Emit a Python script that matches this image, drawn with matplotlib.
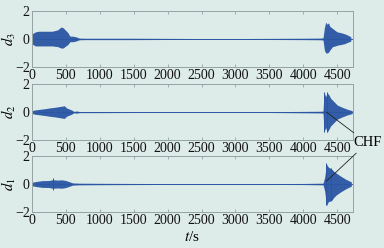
import matplotlib
matplotlib.use("Agg")
import matplotlib.pyplot as plt

plt.rcParams['font.family'] = ['Liberation Serif', 'DejaVu Serif']
plt.rcParams['mathtext.fontset'] = 'stix'
plt.rcParams['axes.unicode_minus'] = True

# ---- data (signal envelopes) ----
labels = ['$d_3$', '$d_2$', '$d_1$']
xticks = [0, 500, 1000, 1500, 2000, 2500, 3000, 3500, 4000, 4500]
yticks = [-2, 0, 2]

t3 = [0, 50, 100, 200, 300, 380, 430, 460, 500, 530, 560, 600, 650, 700, 800, 1000,
      1500, 2000, 2500, 3000, 3500, 4000, 4250, 4290, 4310, 4330, 4350, 4370, 4390,
      4430, 4470, 4500, 4550, 4600, 4650, 4700]
up3 = [0.35, 0.5, 0.55, 0.55, 0.55, 0.65, 0.85, 0.8, 0.6, 0.45, 0.2, 0.2, 0.15, 0.06, 0.05, 0.05,
       0.05, 0.04, 0.03, 0.03, 0.04, 0.05, 0.06, 0.08, 0.8, 1.2, 1.05, 1.15, 0.9,
       0.75, 0.6, 0.5, 0.45, 0.38, 0.28, 0.15]
lo3 = [-0.35, -0.5, -0.5, -0.5, -0.5, -0.55, -0.65, -0.65, -0.5, -0.4, -0.2, -0.2, -0.15, -0.06, -0.05, -0.05,
       -0.05, -0.04, -0.03, -0.03, -0.04, -0.05, -0.06, -0.08, -0.8, -1.0, -1.0, -0.95, -0.8,
       -0.55, -0.5, -0.45, -0.4, -0.35, -0.25, -0.15]

t2 = [0, 40, 120, 200, 265, 350, 437, 480, 510, 560, 585, 620, 660, 700, 1000, 1500, 2000,
      2500, 3000, 3500, 4000, 4250, 4290, 4305, 4330, 4350, 4380, 4400, 4430, 4500, 4580,
      4650, 4720]
up2 = [0.1, 0.15, 0.2, 0.25, 0.3, 0.35, 0.42, 0.45, 0.3, 0.2, 0.15, 0.05, 0.08, 0.04, 0.04, 0.03, 0.03,
       0.03, 0.03, 0.03, 0.05, 0.06, 0.08, 1.4, 1.1, 1.4, 1.2, 1.0, 0.85, 0.5, 0.33,
       0.2, 0.1]
lo2 = [-0.1, -0.15, -0.2, -0.25, -0.3, -0.35, -0.42, -0.45, -0.3, -0.2, -0.15, -0.05, -0.08, -0.04, -0.04, -0.03, -0.03,
       -0.03, -0.03, -0.03, -0.05, -0.06, -0.08, -1.4, -1.1, -1.45, -1.2, -1.0, -0.85, -0.5, -0.33,
       -0.2, -0.1]

t1 = [0, 60, 150, 250, 300, 320, 380, 437, 500, 560, 600, 700, 1000, 1500, 2000, 2500,
      3000, 3500, 4000, 4290, 4315, 4340, 4370, 4413, 4450, 4487, 4560, 4634, 4707]
up1 = [0.12, 0.18, 0.24, 0.25, 0.3, 0.3, 0.28, 0.3, 0.25, 0.15, 0.08, 0.06, 0.05, 0.04, 0.03, 0.03,
       0.03, 0.03, 0.04, 0.06, 0.5, 1.43, 1.2, 1.09, 0.9, 0.77, 0.53, 0.32, 0.15]
lo1 = [-0.12, -0.18, -0.24, -0.25, -0.3, -0.3, -0.28, -0.3, -0.25, -0.15, -0.08, -0.06, -0.05, -0.04, -0.03, -0.03,
       -0.03, -0.03, -0.04, -0.06, -0.5, -1.55, -1.25, -1.2, -0.95, -0.77, -0.53, -0.32, -0.15]

# spike lines seen inside the bursts
spk_t = [[], [4305, 4350], [310, 4340, 4413]]
spk_a = [[], [1.43, 1.43], [0.42, 1.5, 1.15]]

envs = [(t3, up3, lo3), (t2, up2, lo2), (t1, up1, lo1)]

bg = '#deece9'
sig = '#2a55a3'
spine_c = '#93a3a3'

fig = plt.figure(figsize=(3.84, 2.48), dpi=100, facecolor=bg)
bottoms = [0.730, 0.435, 0.145]
axes = []
for i, (b, lab, env) in enumerate(zip(bottoms, labels, envs)):
    ax = fig.add_axes([0.083, b, 0.836, 0.226], facecolor=bg)
    t, up, lo = env
    ax.fill_between(t, lo, up, color=sig, lw=0, alpha=0.95)
    ax.axhline(0, color=sig, lw=0.6)
    for st, sa in zip(spk_t[i], spk_a[i]):
        ax.vlines(st, -sa, sa, color=sig, lw=0.7)
    ax.set_xlim(0, 4730)
    ax.set_ylim(-2, 2)
    ax.set_xticks(xticks)
    ax.set_yticks(yticks)
    ax.tick_params(direction='in', top=True, right=True, length=2.5, width=0.6,
                   color=spine_c, labelsize=10, pad=1.5, labelcolor='#111111')
    for s in ax.spines.values():
        s.set_color(spine_c)
        s.set_linewidth(0.7)
    ax.set_ylabel(lab, fontsize=10.5, va='center', ha='center')
    ax.yaxis.set_label_coords(-0.072, 0.5)
    axes.append(ax)

axes[2].set_xlabel('$t$/s', fontsize=11, labelpad=2)

# CHF annotations
ax2, ax3 = axes[1], axes[2]
ax2.annotate('CHF', xy=(4340, 0), xytext=(4940, -2.2), xycoords='data',
             textcoords=ax2.transData, fontsize=10.5, ha='center', va='center',
             annotation_clip=False,
             arrowprops=dict(arrowstyle='-', color='#222222', lw=0.6, shrinkA=1, shrinkB=0))
ax3.annotate('CHF', xy=(4340, 0.2), xytext=(4940, -2.2), xycoords='data',
             textcoords=ax2.transData, fontsize=10.5, ha='center', va='center',
             annotation_clip=False, alpha=0.0,
             arrowprops=dict(arrowstyle='-', color='#222222', lw=0.6, shrinkA=1, shrinkB=0, alpha=1.0))

fig.savefig('out.png', dpi=100, facecolor=bg)
